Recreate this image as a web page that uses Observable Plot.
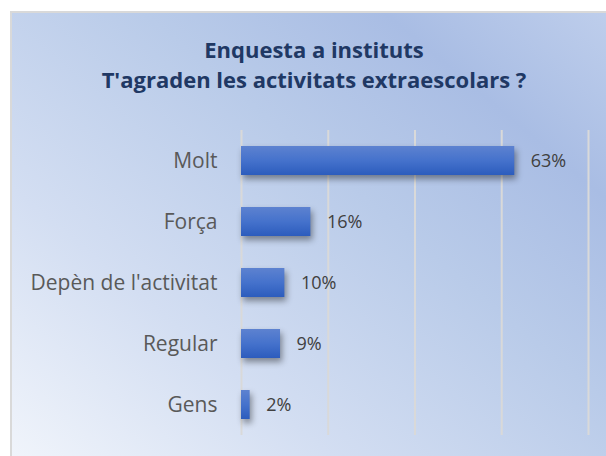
<!DOCTYPE html>
<html>
<head>
<meta charset="utf-8">
<script src="https://cdn.jsdelivr.net/npm/d3@7"></script>
<script src="https://cdn.jsdelivr.net/npm/@observablehq/plot@0.6"></script>
<style>
  html, body { margin: 0; padding: 0; background: #ffffff; }
  #wrap { position: relative; width: 606px; height: 456px; overflow: hidden; font-family: "Open Sans", sans-serif; }
  #panel { position: absolute; left: 10px; top: 11px; width: 640px; height: 480px;
    border-left: 2px solid #d9d9d9; border-top: 2px solid #d9d9d9;
    background: linear-gradient(40deg, #f4f7fc 0%, #d3def2 30%, #b9cbe9 58%, #a9bde4 78%, #c2d1ed 100%); }
  #title { position: absolute; left: 14px; width: 600px; top: 34px; text-align: center;
    font-weight: 700; font-size: 22px; line-height: 30px; color: #203864; }
  #chart { position: absolute; left: 0; top: 0; }
  #chart svg { background: transparent !important; overflow: visible; }
</style>
</head>
<body>
<div id="wrap">
  <div id="panel"></div>
  <div id="title">Enquesta a instituts<br>T'agraden les activitats extraescolars ?</div>
  <div id="chart"></div>
</div>
<script>
const categories = ["Molt", "Força", "Depèn de l'activitat", "Regular", "Gens"];
const values = [63, 16, 10, 9, 2];
const xTicks = [0, 20, 40, 60, 80];

const data = categories.map((c, i) => ({category: c, value: values[i]}));

const chart = Plot.plot({
  width: 606,
  height: 456,
  marginLeft: 241,
  marginRight: 18,
  marginTop: 130,
  marginBottom: 21,
  style: {background: "transparent", fontFamily: "'Open Sans', sans-serif", overflow: "visible"},
  x: {domain: [0, 80], axis: null},
  y: {domain: categories, padding: 0, axis: null},
  marks: [
    Plot.ruleX(xTicks, {stroke: "#d9d9d9", strokeWidth: 2}),
    Plot.barX(data, {x: "value", y: "category", fill: "url(#barGrad)", insetTop: 16, insetBottom: 16}),
    Plot.text(data, {x: "value", y: "category", text: d => d.value + "%", textAnchor: "start", dx: 16, fill: "#404040", fontSize: 18}),
    Plot.axisY({tickSize: 0, tickPadding: 24, fontSize: 21, color: "#595959", label: null})
  ]
});

const svg = d3.select(chart);
const defs = svg.insert("defs", ":first-child");
const g = defs.append("linearGradient").attr("id", "barGrad").attr("x1", 0).attr("y1", 0).attr("x2", 0).attr("y2", 1);
g.append("stop").attr("offset", "0%").attr("stop-color", "#5d82d0");
g.append("stop").attr("offset", "50%").attr("stop-color", "#4572cc");
g.append("stop").attr("offset", "100%").attr("stop-color", "#2c5cbd");
svg.selectAll("g[aria-label='bar']").style("filter", "drop-shadow(2px 4px 3px rgba(0,0,0,0.4))");

document.getElementById("chart").appendChild(chart);
</script>
</body>
</html>
